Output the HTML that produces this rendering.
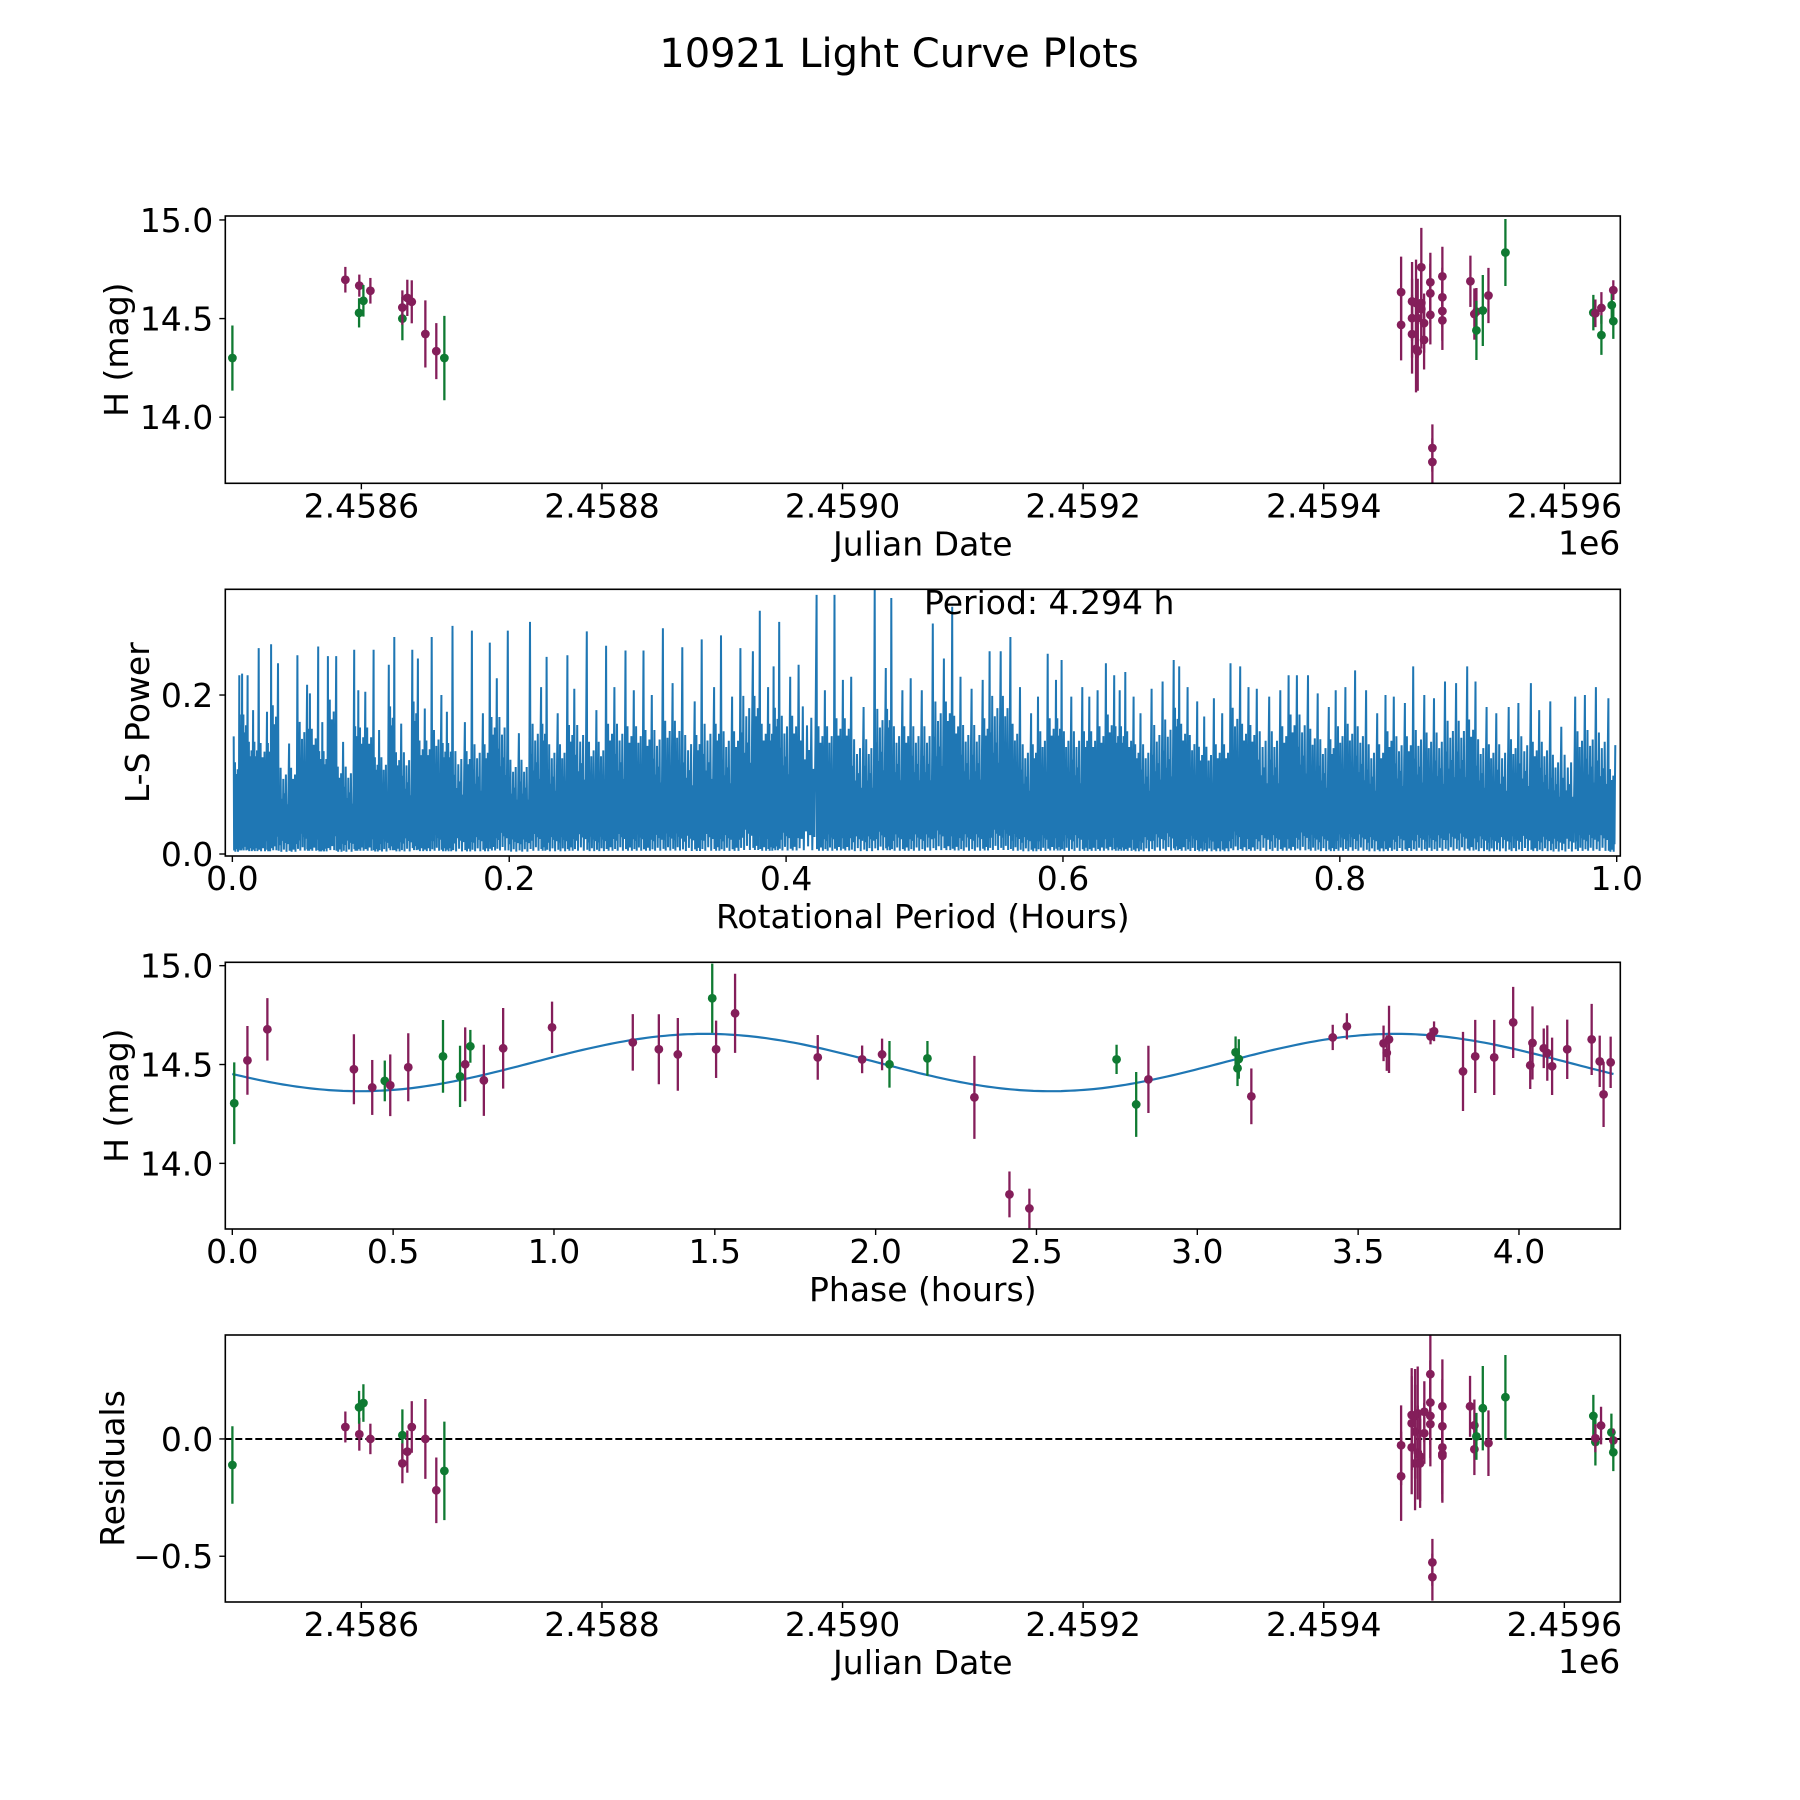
<!DOCTYPE html>
<html><head><meta charset="utf-8"><title>10921 Light Curve Plots</title>
<style>html,body{margin:0;padding:0;background:#fff;}svg{display:block;font-family:"DejaVu Sans","Liberation Sans",sans-serif;}</style>
</head><body>
<svg id="fig" width="1800" height="1800" viewBox="0 0 1800 1800" xmlns="http://www.w3.org/2000/svg">
<rect x="0" y="0" width="1800" height="1800" fill="#fff"/>
<text x="899" y="67" font-size="40" text-anchor="middle" fill="#000">10921 Light Curve Plots</text>
</svg>
<script>
// ---------- Panel 1: light curve vs Julian Date ----------
const jd1 = [2458492.8,2458586.7,2458598.3,2458598.1,2458601.7,2458607.5,2458634.1,2458634.1,2458638.2,2458641.9,2458653.2,2458662.3,2458669.0,
 2459464.3,2459464.3,2459473.4,2459473.4,2459473.4,2459476.7,2459476.7,2459478.1,2459478.1,2459481.1,2459481.1,2459481.1,2459483.4,2459483.4,
 2459488.6,2459488.6,2459488.6,2459490.3,2459490.3,2459498.6,2459498.6,2459498.6,2459498.6,2459521.9,2459525.2,2459526.9,2459526.9,2459532.2,2459536.9,2459551.0,
 2459624.1,2459625.8,2459630.8,2459630.8,2459639.4,2459640.7,2459640.7];
const mag1 = [14.30,14.697,14.667,14.529,14.590,14.641,14.50,14.556,14.605,14.585,14.422,14.335,14.30,
 14.634,14.468,14.587,14.502,14.421,14.579,14.346,14.334,14.502,14.76,14.579,14.548,14.477,14.392,
 14.684,14.628,14.519,13.844,13.773,14.714,14.608,14.538,14.491,14.689,14.523,14.535,14.44,14.541,14.617,14.835,
 14.53,14.527,14.554,14.416,14.568,14.644,14.487];
const err1 = [0.165,0.065,0.056,0.074,0.08,0.065,0.11,0.087,0.092,0.109,0.17,0.142,0.214,
 0.18,0.18,0.2,0.2,0.2,0.22,0.22,0.2,0.2,0.2,0.2,0.2,0.15,0.15,
 0.15,0.15,0.15,0.12,0.12,0.15,0.15,0.15,0.15,0.13,0.13,0.12,0.15,0.18,0.14,0.17,
 0.09,0.07,0.08,0.1,0.07,0.05,0.09];
const band1 = ['G','P','P','G','G','P','G','P','P','P','P','P','G',
 'P','P','P','P','P','P','P','P','P','P','P','P','P','P',
 'P','P','P','P','P','P','P','P','P','P','P','P','G','G','P','G',
 'G','P','P','G','G','P','G'];
const jdTicks = [2458600,2458800,2459000,2459200,2459400,2459600];
const jdTickLabels = ['2.4586','2.4588','2.4590','2.4592','2.4594','2.4596'];
const magTicks = [14.0,14.5,15.0];
const magTickLabels = ['14.0','14.5','15.0'];

// ---------- Panel 2: Lomb-Scargle periodogram (peak envelope) ----------
const lsPeriod = [.001,.005,.007,.011,.015,.019,.025,.028,.033,.041,.047,.054,.056,.062,.065,.069,.075,.080,.088,.091,.096,.102,.106,.113,.117,.122,.130,.134,.139,.144,.151,.155,.159,.168,.173,.181,.186,.191,.199,.207,.215,.223,.227,.235,.242,.247,.256,.263,.270,.276,.284,.290,.297,.303,.311,.318,.325,.334,.339,.348,.353,.361,.367,.376,.381,.387,.391,.395,.403,.409,.422,.428,.435,.441,.447,.456,.464,.472,.476,.484,.490,.498,.506,.514,.520,.526,.534,.542,.547,.555,.562,.569,.577,.582,.589,.595,.599,.606,.614,.619,.625,.631,.637,.641,.645,.651,.656,.664,.672,.680,.684,.690,.697,.702,.709,.715,.721,.728,.734,.740,.749,.757,.763,.769,.777,.784,.792,.797,.804,.811,.819,.827,.833,.839,.847,.853,.861,.868,.876,.884,.892,.898,.906,.913,.922,.929,.938,.944,.952,.960,.970,.977,.985,.994,.999];
const lsPower = [.148,.225,.227,.225,.181,.259,.179,.264,.240,.139,.250,.213,.202,.261,.166,.249,.249,.141,.257,.206,.204,.257,.156,.238,.273,.164,.257,.246,.183,.273,.200,.179,.287,.166,.281,.177,.266,.221,.281,.152,.292,.210,.248,.177,.250,.208,.280,.181,.262,.210,.256,.206,.256,.200,.284,.215,.260,.192,.270,.210,.275,.198,.259,.255,.306,.210,.236,.292,.223,.238,.326,.206,.326,.219,.223,.185,.334,.234,.322,.206,.221,.206,.290,.246,.311,.223,.208,.219,.255,.255,.273,.210,.177,.198,.252,.219,.244,.198,.210,.198,.206,.240,.225,.206,.229,.198,.177,.208,.217,.244,.236,.210,.192,.173,.196,.177,.240,.236,.210,.208,.198,.206,.225,.225,.225,.202,.185,.206,.210,.231,.206,.177,.200,.198,.190,.236,.200,.196,.217,.215,.236,.217,.185,.177,.185,.190,.215,.181,.192,.160,.198,.200,.210,.196,.137];
const lsXTicks = [0,0.2,0.4,0.6,0.8,1.0];
const lsXTickLabels = ['0.0','0.2','0.4','0.6','0.8','1.0'];
const lsYTicks = [0.0,0.2];
const lsYTickLabels = ['0.0','0.2'];

// ---------- Panel 3: phased light curve ----------
const phase3 = [.006,.047,.109,.378,.435,.474,.491,.547,.655,.708,.724,.740,.782,.842,.994,1.245,1.326,1.385,
 1.492,1.504,1.563,1.82,1.958,2.02,2.043,2.161,2.307,2.416,2.478,2.749,2.81,2.848,
 3.119,3.129,3.125,3.168,3.421,3.465,3.579,3.589,3.596,3.725,3.736,3.826,3.864,3.923,3.982,4.035,4.042,4.077,4.088,4.103,4.15,4.226,4.251,4.263,4.285];
const mag3 = [14.304,14.521,14.678,14.476,14.384,14.417,14.395,14.486,14.541,14.44,14.501,14.592,14.42,14.582,14.688,14.612,14.577,14.551,
 14.835,14.577,14.759,14.536,14.526,14.551,14.501,14.531,14.334,13.843,13.772,14.526,14.298,14.425,
 14.562,14.528,14.481,14.339,14.637,14.693,14.607,14.558,14.627,14.642,14.668,14.465,14.541,14.536,14.713,14.496,14.609,14.582,14.558,14.491,14.577,14.627,14.516,14.349,14.511];
const err3 = [.207,.174,.158,.177,.139,.103,.156,.172,.184,.155,.187,.083,.18,.204,.13,.143,.177,.184,
 .175,.145,.2,.113,.07,.08,.118,.088,.21,.116,.1,.074,.164,.17,
 .08,.1,.09,.141,.064,.066,.09,.09,.17,.04,.05,.2,.185,.19,.18,.12,.185,.1,.14,.145,.15,.18,.13,.165,.13];
const band3 = ['G','P','P','P','P','G','P','P','G','G','P','G','P','P','P','P','P','P',
 'G','P','P','P','P','P','G','G','P','P','P','G','G','P',
 'G','G','G','P','P','P','P','P','P','P','P','P','P','P','P','P','P','P','P','P','P','P','P','P','P'];
const modelMean = 14.51;
const modelAmp = 0.145;
const modelPeakPhase = 1.47;
const modelPeriod = 2.147;
const phaseTicks = [0,0.5,1.0,1.5,2.0,2.5,3.0,3.5,4.0];
const phaseTickLabels = ['0.0','0.5','1.0','1.5','2.0','2.5','3.0','3.5','4.0'];

// ---------- Panel 4: residuals ----------
const jd4 = [2458492.8,2458586.7,2458598.3,2458598.1,2458601.7,2458607.5,2458634.1,2458634.1,2458638.2,2458641.9,2458653.2,2458662.3,2458669.0,
 2459464.3,2459464.3,2459473.1,2459473.1,2459473.1,2459475.9,2459475.9,2459475.9,2459478.1,2459478.1,2459480.1,2459480.1,2459483.6,2459483.6,
 2459488.6,2459488.6,2459488.6,2459488.6,2459490.3,2459490.3,2459498.6,2459498.6,2459498.6,2459498.6,2459498.6,
 2459521.6,2459525.2,2459525.2,2459526.9,2459532.2,2459536.9,2459551.0,2459624.1,2459625.8,2459625.8,2459630.5,2459639.1,2459640.7,2459640.7];
const res4 = [-0.111,0.051,0.02,0.135,0.153,0.0,0.016,-0.104,-0.054,0.051,0.0,-0.219,-0.136,
 -0.027,-0.159,0.102,0.067,-0.036,0.098,0.031,-0.104,0.109,-0.058,-0.075,-0.104,0.116,0.024,
 0.276,0.155,0.098,0.063,-0.526,-0.589,0.139,0.054,-0.036,-0.064,-0.072,
 0.139,0.058,-0.044,0.011,0.131,-0.018,0.178,0.098,-0.013,0.003,0.057,0.028,-0.006,-0.057];
const err4 = [.165,.066,.07,.07,.08,.065,.11,.085,.09,.11,.17,.14,.21,
 .17,.19,.2,.2,.2,.2,.2,.2,.2,.2,.19,.19,.13,.13,
 .18,.18,.18,.18,.1,.1,.2,.2,.2,.2,.2,
 .13,.11,.11,.1,.18,.14,.18,.09,.1,.06,.08,.08,.05,.08];
const band4 = ['G','P','P','G','G','P','G','P','P','P','P','P','G',
 'P','P','P','P','P','P','P','P','P','P','P','P','P','P',
 'P','P','P','P','P','P','P','P','P','P','P',
 'P','P','P','G','G','P','G','G','G','P','P','G','P','G'];
const resTicks = [-0.5,0.0];
const resTickLabels = ['\u22120.5','0.0'];

// ---------- rendering ----------
const NS = 'http://www.w3.org/2000/svg';
const svg = document.getElementById('fig');
const COL = {P:'#841e5a', G:'#0f7a32'};
function mk(tag, attrs, parent){
  const e = document.createElementNS(NS, tag);
  for (const k in attrs) e.setAttribute(k, attrs[k]);
  parent.appendChild(e);
  return e;
}
function makeAxis(p){
  p.sx = v => p.x0 + (v - p.xd[0]) / (p.xd[1] - p.xd[0]) * (p.x1 - p.x0);
  p.sy = v => p.y1 - (v - p.yd[0]) / (p.yd[1] - p.yd[0]) * (p.y1 - p.y0);
  const g = mk('g', {}, svg);
  
  
  const cp = mk('clipPath', {id: p.name + '-clip'}, g);
  mk('rect', {x: p.x0, y: p.y0, width: p.x1 - p.x0, height: p.y1 - p.y0}, cp);
  p.g = g;
  p.data = mk('g', {'clip-path': 'url(#' + p.name + '-clip)'}, g);
  
  
  return p;
}
function finishAxis(p, xt, xl, yt, yl, xlabel, ylabel, ylabX){
  const frame = mk('rect', {x: p.x0, y: p.y0, width: p.x1 - p.x0, height: p.y1 - p.y0, fill: 'none', stroke: '#000', 'stroke-width': 1.6}, p.g);
  
  
  xt.forEach((v, i) => {
    const x = p.sx(v);
    mk('line', {x1: x, x2: x, y1: p.y1, y2: p.y1 + 6, stroke: '#000', 'stroke-width': 1.4}, p.g);
    const t = mk('text', {x: x, y: p.y1 + 34, 'font-size': 33, 'text-anchor': 'middle'}, p.g);
    
    
    t.textContent = xl[i];
  });
  yt.forEach((v, i) => {
    const y = p.sy(v);
    mk('line', {x1: p.x0 - 6, x2: p.x0, y1: y, y2: y, stroke: '#000', 'stroke-width': 1.4}, p.g);
    const t = mk('text', {x: p.x0 - 12, y: y + 12, 'font-size': 33, 'text-anchor': 'end'}, p.g);
    
    
    t.textContent = yl[i];
  });
  const xlab = mk('text', {x: (p.x0 + p.x1) / 2, y: p.y1 + 72, 'font-size': 33, 'text-anchor': 'middle'}, p.g);
  
  
  xlab.textContent = xlabel;
  const cy = (p.y0 + p.y1) / 2;
  const ylab = mk('text', {x: ylabX, y: cy, 'font-size': 33, 'text-anchor': 'middle', transform: 'rotate(-90 ' + ylabX + ' ' + cy + ')'}, p.g);
  
  
  ylab.textContent = ylabel;
}
function errPoints(p, xs, ys, es, bs){
  xs.forEach((xv, i) => {
    const x = p.sx(xv), c = COL[bs[i]];
    const bar = mk('line', {x1: x, x2: x, y1: p.sy(ys[i] - es[i]), y2: p.sy(ys[i] + es[i]), stroke: c, 'stroke-width': 2.3}, p.data);
    
    
    const dot = mk('circle', {cx: x, cy: p.sy(ys[i]), r: 4.4, fill: c}, p.data);
    
    
  });
}
function offsetLabel(p){
  const t = mk('text', {x: p.x1, y: p.y1 + 71, 'font-size': 33, 'text-anchor': 'end'}, p.g);
  
  
  t.textContent = '1e6';
}

// Panel 1
const p1 = makeAxis({name: 'light-curve-panel', x0: 225.3, x1: 1620.3, y0: 216, y1: 483.3, xd: [2458486.9, 2459646.5], yd: [13.665, 15.02]});
errPoints(p1, jd1, mag1, err1, band1);
finishAxis(p1, jdTicks, jdTickLabels, magTicks, magTickLabels, 'Julian Date', 'H (mag)', 128);
offsetLabel(p1);

// Panel 2
const p2 = makeAxis({name: 'periodogram-panel', x0: 225.3, x1: 1620.3, y0: 589.3, y1: 856, xd: [-0.0051, 1.0026], yd: [-0.0025, 0.333]});
(function(){
  const mult = [0.03,0.6,0.08,0.78,0.02,0.5,0.12,0.68,0.04,0.55,0.1,0.72,0.02,0.45,0.09,0.62];
  const pts = [];
  for (let i = 0; i < lsPeriod.length; i++){
    pts.push([lsPeriod[i], lsPower[i]]);
    if (i < lsPeriod.length - 1){
      const env = Math.min(lsPower[i], lsPower[i + 1]);
      const dp = lsPeriod[i + 1] - lsPeriod[i];
      for (let k = 0; k < mult.length; k++){
        pts.push([lsPeriod[i] + dp * (k + 1) / (mult.length + 1), env * mult[k]]);
      }
    }
  }
  const line = mk('polyline', {points: pts.map(q => p2.sx(q[0]).toFixed(1) + ',' + p2.sy(q[1]).toFixed(1)).join(' '), fill: 'none', stroke: '#1f77b4', 'stroke-width': 2.0, 'stroke-linejoin': 'miter'}, p2.data);
  
  
})();
finishAxis(p2, lsXTicks, lsXTickLabels, lsYTicks, lsYTickLabels, 'Rotational Period (Hours)', 'L-S Power', 149);
const ann = mk('text', {x: 924, y: 614, 'font-size': 33}, p2.g);


ann.textContent = 'Period: 4.294 h';

// Panel 3
const p3 = makeAxis({name: 'phased-curve-panel', x0: 225.3, x1: 1620.3, y0: 962.3, y1: 1229, xd: [-0.0218, 4.315], yd: [13.668, 15.017]});
(function(){
  const pts = [];
  for (let k = 0; k <= 300; k++){
    const ph = 4.294 * k / 300;
    const m = modelMean + modelAmp * Math.cos(2 * Math.PI * (ph - modelPeakPhase) / modelPeriod);
    pts.push(p3.sx(ph).toFixed(1) + ',' + p3.sy(m).toFixed(1));
  }
  const fit = mk('polyline', {points: pts.join(' '), fill: 'none', stroke: '#1f77b4', 'stroke-width': 2.2}, p3.data);
  
  
})();
errPoints(p3, phase3, mag3, err3, band3);
finishAxis(p3, phaseTicks, phaseTickLabels, magTicks, magTickLabels, 'Phase (hours)', 'H (mag)', 128);

// Panel 4
const p4 = makeAxis({name: 'residuals-panel', x0: 225.3, x1: 1620.3, y0: 1335, y1: 1602, xd: [2458486.9, 2459646.5], yd: [-0.695, 0.443]});
const zl = mk('line', {x1: p4.x0, x2: p4.x1, y1: p4.sy(0), y2: p4.sy(0), stroke: '#000', 'stroke-width': 2, 'stroke-dasharray': '7,3'}, p4.data);


errPoints(p4, jd4, res4, err4, band4);
finishAxis(p4, jdTicks, jdTickLabels, resTicks, resTickLabels, 'Julian Date', 'Residuals', 124);
offsetLabel(p4);
</script>
</body></html>
